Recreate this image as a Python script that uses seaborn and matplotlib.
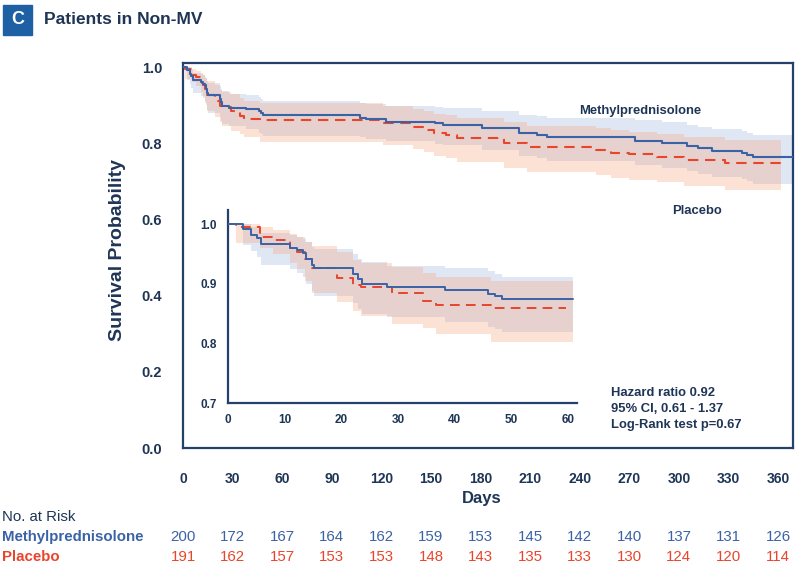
import numpy as np
import pandas as pd
import matplotlib
matplotlib.use("Agg")
import matplotlib.pyplot as plt
import matplotlib.transforms as mtransforms
from matplotlib.patches import Rectangle
import seaborn as sns

# ---------------- data ----------------
days_mp = [0, 2.7, 4.1, 5.1, 5.9, 10.9, 12.1, 13.3, 13.8, 14.8, 15.2, 22.1, 23.0, 23.6, 28.0,
           38.3, 45.9, 47.1, 48.3, 107, 111, 123, 152.5, 157.5, 180.7, 203, 214, 220,
           273.5, 289.6, 304.7, 311.8, 319.9, 338, 341, 345]
surv_mp = [1.0, 0.991, 0.9815, 0.976, 0.966, 0.960, 0.956, 0.952, 0.942, 0.932, 0.9266, 0.9165,
           0.9076, 0.8987, 0.8936, 0.889, 0.8835, 0.879, 0.8745, 0.867, 0.863, 0.8565, 0.852,
           0.848, 0.839, 0.826, 0.8215, 0.8155, 0.807, 0.8015, 0.7927, 0.7866, 0.780, 0.775,
           0.769, 0.763]
low_mp = [1.0, 0.965, 0.955, 0.945, 0.931, 0.925, 0.918, 0.912, 0.900, 0.888, 0.880, 0.868,
          0.858, 0.850, 0.844, 0.836, 0.828, 0.824, 0.819, 0.815, 0.811, 0.805, 0.799,
          0.794, 0.782, 0.766, 0.760, 0.753, 0.743, 0.736, 0.726, 0.719, 0.712, 0.706,
          0.700, 0.693]
upp_mp = [1.0, 1.0, 0.995, 0.992, 0.985, 0.982, 0.978, 0.975, 0.970, 0.962, 0.958, 0.950,
          0.942, 0.936, 0.930, 0.926, 0.921, 0.916, 0.9115, 0.906, 0.903, 0.898, 0.895,
          0.892, 0.885, 0.875, 0.871, 0.866, 0.860, 0.855, 0.848, 0.843, 0.838, 0.833,
          0.828, 0.822]
end_mp = 369

days_pl = [0, 1.5, 5.6, 8.0, 10.9, 12.1, 13.6, 14.8, 19.2, 22.1, 23.5, 28.9, 34.5, 36.8, 46.5,
           121, 139, 146, 152, 159, 166, 194, 208, 250, 259, 270, 287, 303, 328]
surv_pl = [1.0, 0.9955, 0.9787, 0.974, 0.959, 0.9535, 0.942, 0.9255, 0.910, 0.8975, 0.8946,
           0.8846, 0.8706, 0.864, 0.860, 0.852, 0.842, 0.835, 0.826, 0.8215, 0.813, 0.800,
           0.789, 0.782, 0.775, 0.771, 0.765, 0.756, 0.747]
low_pl = [1.0, 0.968, 0.960, 0.950, 0.935, 0.925, 0.905, 0.885, 0.870, 0.855, 0.845, 0.832,
          0.825, 0.815, 0.802, 0.795, 0.785, 0.776, 0.766, 0.760, 0.750, 0.736, 0.724,
          0.716, 0.708, 0.703, 0.697, 0.687, 0.677]
upp_pl = [1.0, 1.0, 0.995, 0.990, 0.984, 0.978, 0.970, 0.963, 0.953, 0.940, 0.935, 0.928,
          0.918, 0.912, 0.905, 0.898, 0.890, 0.884, 0.877, 0.873, 0.866, 0.855, 0.846,
          0.840, 0.834, 0.830, 0.825, 0.817, 0.809]
end_pl = 362

tick_days = [0, 30, 60, 90, 120, 150, 180, 210, 240, 270, 300, 330, 360]
risk_mp = [200, 172, 167, 164, 162, 159, 153, 145, 142, 140, 137, 131, 126]
risk_pl = [191, 162, 157, 153, 153, 148, 143, 135, 133, 130, 124, 120, 114]

# ---------------- style ----------------
NAVY = "#1E3556"
SPINE = "#24406B"
BLUE = "#3A62A6"
RED = "#E8452C"
BLUE_BAND = "#8FA6DA"
RED_BAND = "#F5A67F"

sns.set_theme(style="white")
plt.rcParams["font.family"] = ["Liberation Sans", "DejaVu Sans"]

W, H = 796, 570
fig = plt.figure(figsize=(W / 100, H / 100), dpi=100)


def fx(x):
    return x / W


def fy(y):
    return 1 - y / H


def step_frame(days, surv, low, upp, end, tmax):
    d = list(days) + [end]
    s = list(surv) + [surv[-1]]
    lo = list(low) + [low[-1]]
    up = list(upp) + [upp[-1]]
    df = pd.DataFrame({"day": d, "surv": s, "low": lo, "upp": up})
    if tmax < end:
        keep = df[df["day"] < tmax]
        last = keep.iloc[-1].copy()
        last["day"] = tmax
        df = pd.concat([keep, last.to_frame().T], ignore_index=True)
    return df


def draw_curves(ax, tmax_mp, tmax_pl, band_max, lw):
    series = [
        (days_mp, surv_mp, low_mp, upp_mp, end_mp, tmax_mp, BLUE, BLUE_BAND, "-", 0.28),
        (days_pl, surv_pl, low_pl, upp_pl, end_pl, tmax_pl, RED, RED_BAND, (0, (5, 3.2)), 0.32),
    ]
    for d, s, lo, up, end, tmax, col, bcol, ls, alpha in series:
        band = step_frame(d, s, lo, up, end, min(band_max, end))
        ax.fill_between(band["day"].astype(float), band["low"].astype(float),
                        band["upp"].astype(float), step="post", color=bcol,
                        alpha=alpha, lw=0, zorder=1)
    for d, s, lo, up, end, tmax, col, bcol, ls, alpha in series[::-1]:
        df = step_frame(d, s, lo, up, end, min(tmax, end))
        sns.lineplot(data=df, x="day", y="surv", ax=ax, color=col, lw=lw,
                     linestyle=ls, drawstyle="steps-post", estimator=None,
                     sort=False, zorder=3)


# ---------------- main axes ----------------
ax = fig.add_axes([fx(183), fy(448), fx(793) - fx(183), fy(63) - fy(448)])
ax.set_facecolor("white")
draw_curves(ax, end_mp, end_pl, end_mp, 1.5)
ax.set_xlim(0, 369)
ax.set_ylim(0, 1.0105)
ax.set_xticks(tick_days)
ax.set_yticks([0.0, 0.2, 0.4, 0.6, 0.8, 1.0])
ax.set_yticklabels(["0.0", "0.2", "0.4", "0.6", "0.8", "1.0"])
ax.set_xlabel("")
ax.set_ylabel("")
for sp in ax.spines.values():
    sp.set_color(SPINE)
    sp.set_linewidth(1.6)
ax.tick_params(axis="both", which="major", direction="out", length=6, width=1.5,
               color=SPINE, labelcolor=NAVY)
ax.tick_params(axis="x", pad=11, labelsize=10)
ax.tick_params(axis="y", pad=9, labelsize=10.5)
for lab in ax.get_xticklabels() + ax.get_yticklabels():
    lab.set_fontweight("bold")

fig.text(fx(117), fy(250), "Survival Probability", rotation=90, ha="center",
         va="center", fontsize=14, fontweight="bold", color=NAVY)
fig.text(fx(482), fy(498), "Days", ha="center", va="center", fontsize=12,
         fontweight="bold", color=NAVY)

fig.text(fx(640), fy(111), "Methylprednisolone", ha="center", va="center",
         fontsize=9.4, fontweight="bold", color=NAVY)
fig.text(fx(697), fy(211), "Placebo", ha="center", va="center",
         fontsize=9.4, fontweight="bold", color=NAVY)
for yy, txt in [(393, "Hazard ratio 0.92"), (409, "95% CI, 0.61 - 1.37"),
                (425, "Log-Rank test p=0.67")]:
    fig.text(fx(611), fy(yy), txt, ha="left", va="center", fontsize=9.4,
             fontweight="bold", color=NAVY)

# ---------------- inset ----------------
ax2 = fig.add_axes([fx(228), fy(403), fx(577) - fx(228), fy(210) - fy(403)])
ax2.set_facecolor("none")
draw_curves(ax2, 60.9, 59.7, 60.9, 1.4)
ax2.set_xlim(0, 61.6)
ax2.set_ylim(0.7, 1.0235)
ax2.set_xticks([0, 10, 20, 30, 40, 50, 60])
ax2.set_yticks([0.7, 0.8, 0.9, 1.0])
ax2.set_yticklabels(["0.7", "0.8", "0.9", "1.0"])
ax2.set_xlabel("")
ax2.set_ylabel("")
for side in ["top", "right"]:
    ax2.spines[side].set_visible(False)
for side in ["left", "bottom"]:
    ax2.spines[side].set_color(SPINE)
    ax2.spines[side].set_linewidth(1.6)
ax2.tick_params(axis="both", direction="out", length=5, width=1.5, color=SPINE,
                labelcolor=NAVY, labelsize=8.5, pad=3)
for lab in ax2.get_xticklabels() + ax2.get_yticklabels():
    lab.set_fontweight("bold")

# ---------------- number at risk ----------------
tr = mtransforms.blended_transform_factory(ax.transData, fig.transFigure)
fig.text(fx(2), fy(517), "No. at Risk", ha="left", va="center", fontsize=10.8,
         color=NAVY)
fig.text(fx(2), fy(537), "Methylprednisolone", ha="left", va="center", fontsize=10.8,
         fontweight="bold", color=BLUE)
fig.text(fx(2), fy(557), "Placebo", ha="left", va="center", fontsize=10.8,
         fontweight="bold", color=RED)
for d, a, b in zip(tick_days, risk_mp, risk_pl):
    ax.text(d, fy(537), str(a), transform=tr, ha="center", va="center",
            fontsize=10.8, color=BLUE, clip_on=False)
    ax.text(d, fy(557), str(b), transform=tr, ha="center", va="center",
            fontsize=10.8, color=RED, clip_on=False)

# ---------------- header ----------------
fig.patches.append(Rectangle((fx(3), fy(35)), fx(32) - fx(3), fy(5) - fy(35),
                             transform=fig.transFigure, color="#1F5FA3", zorder=5))
fig.text(fx(17.5), fy(20), "C", ha="center", va="center", fontsize=13,
         fontweight="bold", color="white", zorder=6)
fig.text(fx(44), fy(20), "Patients in Non-MV", ha="left", va="center",
         fontsize=12.5, fontweight="bold", color=NAVY)

fig.savefig("out.png", dpi=100, facecolor="white")
